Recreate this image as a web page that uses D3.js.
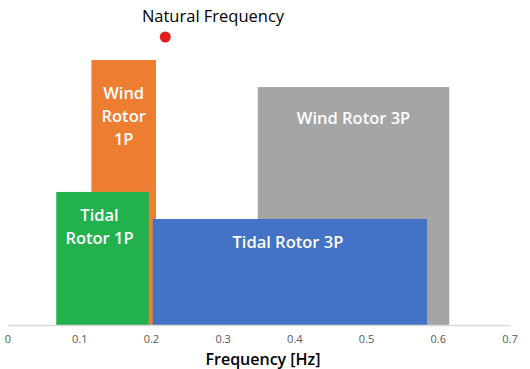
<!DOCTYPE html>
<html><head><meta charset="utf-8">
<script src="https://cdn.jsdelivr.net/npm/d3@7"></script>
<style>body{margin:0;background:#fff}svg{display:block}text{font-family:"Open Sans",sans-serif}</style>
</head><body><svg id="c" width="530" height="369"></svg>
<script>
// Data
const bandNames = ["Wind Rotor 3P","Wind Rotor 1P","Tidal Rotor 1P","Tidal Rotor 3P"];
const bandStart = [0.349, 0.117, 0.068, 0.2025];
const bandEnd   = [0.616, 0.207, 0.197, 0.585];
const bandHeight= [0.826, 0.92, 0.462, 0.368];
const bandLabelLines = [["Wind Rotor 3P"],["Wind","Rotor","1P"],["Tidal","Rotor 1P"],["Tidal Rotor 3P"]];
const bandColors = ["#A5A5A5","#ED7D31","#22B14C","#4472C4"];
const naturalFreq = [0.22];
const naturalLevel = [1.0];
const xTicks = [0,0.1,0.2,0.3,0.4,0.5,0.6,0.7];

const svg = d3.select("#c");
const x = d3.scaleLinear().domain([0,0.7]).range([7.5,509.5]);
const y = d3.scaleLinear().domain([0,1]).range([325,37]);

// bands
const g = svg.append("g");
bandNames.forEach((n,i)=>{
  g.append("rect").attr("x",x(bandStart[i])).attr("y",y(bandHeight[i]))
   .attr("width",x(bandEnd[i])-x(bandStart[i])).attr("height",y(0)-y(bandHeight[i]))
   .attr("fill",bandColors[i]);
});

// axis
const ax = svg.append("g").attr("transform",`translate(0,${y(0)})`)
  .call(d3.axisBottom(x).tickValues(xTicks).tickFormat(d=>d===0?"0":d3.format(".1f")(d)).tickSize(0).tickPadding(10));
ax.select(".domain").attr("stroke","#d9d9d9").attr("stroke-width",1.3);
ax.selectAll("text").attr("fill","#595959").attr("font-size",11).attr("font-family","Open Sans, sans-serif");

// band labels
const labelY = [118, 93, 215, 242];
const lineH = [0, 23, 23, 0];
bandNames.forEach((n,i)=>{
  const cx = (x(bandStart[i])+x(bandEnd[i]))/2 + (i===2?-3:0) + (i===3?-2:0);
  const t = svg.append("text").attr("text-anchor","middle").attr("fill","#fff")
    .attr("font-size",16.5).attr("font-weight",600);
  bandLabelLines[i].forEach((l,j)=>{
    t.append("tspan").attr("x",cx).attr("y",labelY[i]+j*lineH[i]).attr("dy","0.35em").text(l);
  });
});

// natural frequency
svg.append("circle").attr("cx",x(naturalFreq[0])).attr("cy",y(naturalLevel[0])).attr("r",5.5).attr("fill","#E41E1E");
svg.append("text").attr("x",213).attr("y",16).attr("dy","0.35em").attr("text-anchor","middle")
  .attr("font-size",16.5).attr("font-weight",500).attr("fill","#000").text("Natural Frequency");

// axis title
svg.append("text").attr("x",263).attr("y",359).attr("dy","0.35em").attr("text-anchor","middle")
  .attr("font-size",16).attr("font-weight",600).attr("fill","#000").text("Frequency [Hz]");
</script></body></html>
